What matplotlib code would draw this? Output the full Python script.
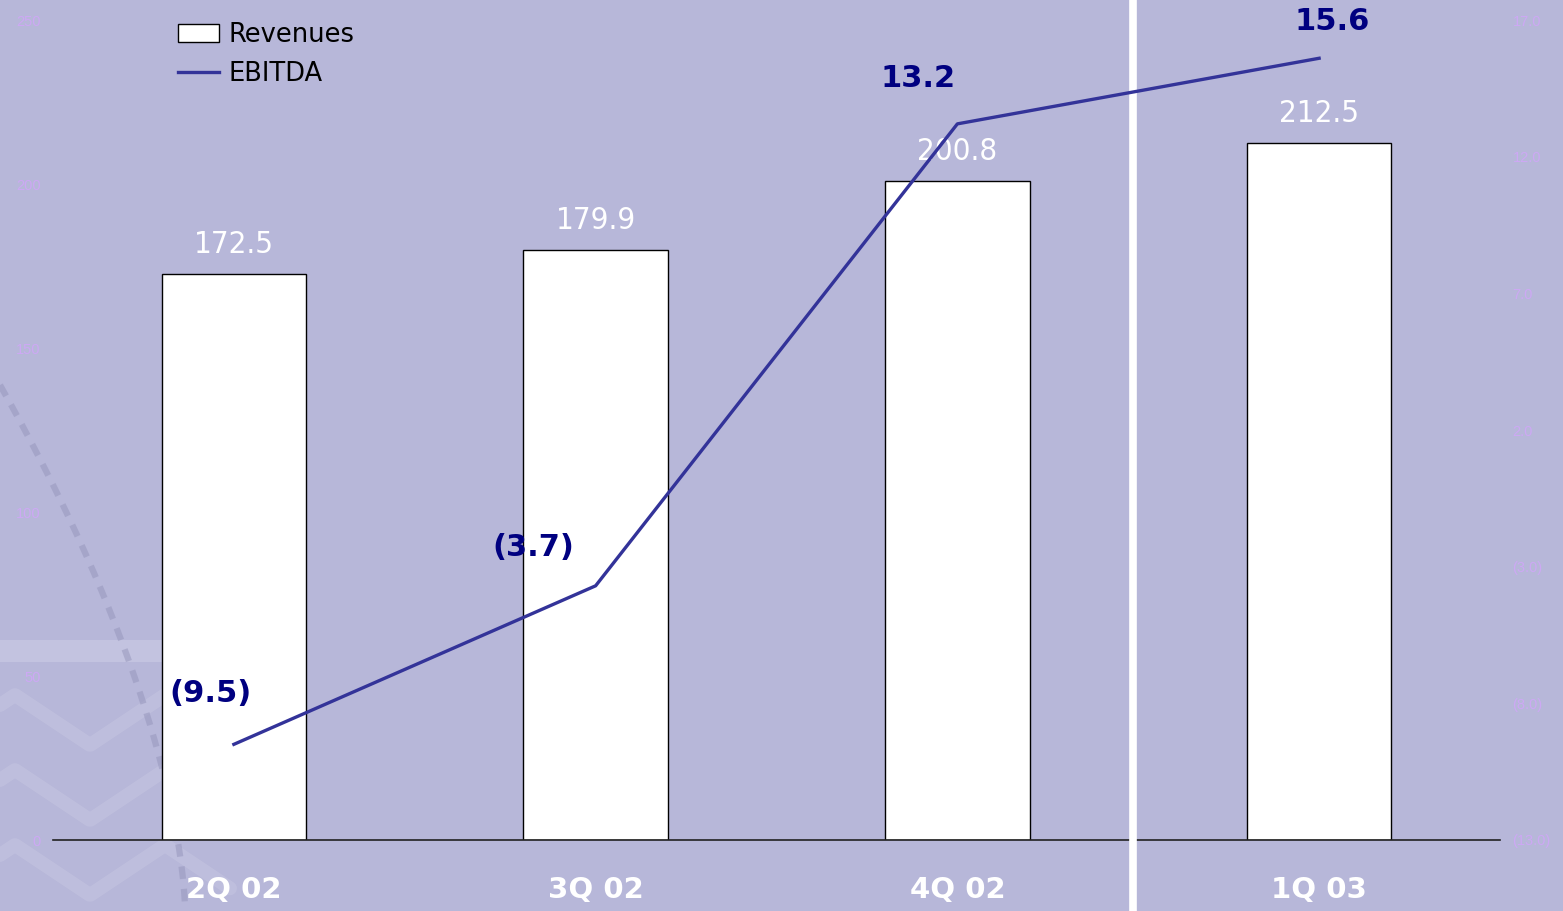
import matplotlib
matplotlib.use("Agg")
import matplotlib.pyplot as plt
import numpy as np
from matplotlib.patches import Patch
from matplotlib.lines import Line2D

# Quarterly figures
quarters = ["2Q 02", "3Q 02", "4Q 02", "1Q 03"]
revenues = [172.5, 179.9, 200.8, 212.5]
ebitda = [-9.5, -3.7, 13.2, 15.6]

rev_ticks = [0, 50, 100, 150, 200, 250]
ebitda_ticks = [-13.0, -8.0, -3.0, 2.0, 7.0, 12.0, 17.0]


def fmt_amount(v):
    return f"({abs(v):.1f})" if v < 0 else f"{v:.1f}"


BG = "#b7b7d9"
TICK_COLOR = "#cda8f4"
LINE_COLOR = "#333399"
NAVY = "#000080"

plt.rcParams["font.family"] = ["DejaVu Sans"]

fig = plt.figure(figsize=(15.63, 9.11), dpi=100, facecolor=BG)
ax = fig.add_axes([53 / 1563, 71 / 911, 1447 / 1563, 820 / 911])
ax.set_facecolor("none")

# faint decorative backdrop in the lower-left corner
deco = fig.add_axes([0, 0, 1, 1], zorder=-1)
deco.set_xlim(0, 1563)
deco.set_ylim(911, 0)
deco.axis("off")
deco.add_patch(plt.Rectangle((0, 640), 165, 22, color="#c3c3e0", lw=0))
for yoff in (0, 75, 150):
    xs = np.linspace(0, 230, 250)
    ys = 745 + yoff - 50 * np.abs(((xs - 15) / 75) % 2 - 1)
    deco.plot(xs, ys, color="#c2c2df", lw=10, alpha=0.7, solid_capstyle="round")
t = np.linspace(0, 1, 200)
arc_x = 185 * (1 - (1 - t) ** 1.6)
arc_y = 385 + 525 * t
deco.plot(arc_x, arc_y, color="#9494ba", lw=4.5, alpha=0.5, ls=(0, (2.0, 1.6)))

x = np.arange(len(quarters))

bars = ax.bar(x, revenues, width=0.4, color="white", edgecolor="black",
              linewidth=1.0, zorder=2)
for xi, v in zip(x, revenues):
    ax.annotate(f"{v:.1f}", (xi, v), xytext=(0, 21.5), textcoords="offset points",
                ha="center", va="center", color="white", fontsize=22.5,
                fontstretch="condensed")

ax.set_xlim(-0.5, 3.5)
ax.set_ylim(0, 250)
ax.set_yticks(rev_ticks)
ax.set_yticklabels([str(v) for v in rev_ticks], fontsize=10.5, color=TICK_COLOR,
                   family="Liberation Sans")
ax.tick_params(axis="y", length=0, pad=9)
ax.set_xticks(x)
ax.set_xticklabels(quarters, fontsize=21, fontweight="bold", color="white")
ax.tick_params(axis="x", length=0, pad=26)
for side in ("top", "left", "right"):
    ax.spines[side].set_visible(False)
ax.spines["bottom"].set_color("#222222")
ax.spines["bottom"].set_linewidth(1.2)

ax2 = ax.twinx()
ax2.set_ylim(-13, 17)
ax2.plot(x, ebitda, color=LINE_COLOR, lw=2.4, zorder=3)
ax2.set_yticks(ebitda_ticks)
ax2.set_yticklabels([fmt_amount(v) for v in ebitda_ticks], fontsize=10.5,
                    color=TICK_COLOR, family="Liberation Sans")
ax2.tick_params(axis="y", length=0, pad=9)
for side in ("top", "left", "right", "bottom"):
    ax2.spines[side].set_visible(False)

label_offsets = [(-17, 36.5), (-45, 27.5), (-28, 33), (9.5, 26.5)]
for xi, v, off in zip(x, ebitda, label_offsets):
    ax2.annotate(fmt_amount(v), (xi, v), xytext=off, textcoords="offset points",
                 ha="center", va="center", color=NAVY, fontsize=22,
                 fontweight="bold")

# divider between 2002 and 2003 quarters
ax.axvline(2.485, ymin=-0.1, ymax=1.1, color="white", lw=5.5, clip_on=False,
           zorder=5)

handles = [Patch(facecolor="white", edgecolor="black", linewidth=1.0),
           Line2D([], [], color=LINE_COLOR, lw=2.4)]
fig.legend(handles, ["Revenues", "EBITDA"], loc="upper left",
           bbox_to_anchor=(168 / 1563, 1 - 12 / 911), frameon=False,
           fontsize=18.5, handlelength=1.6, handleheight=0.7,
           handletextpad=0.35, labelspacing=0.5, borderaxespad=0)

fig.savefig("out.png", dpi=100, facecolor=BG)
